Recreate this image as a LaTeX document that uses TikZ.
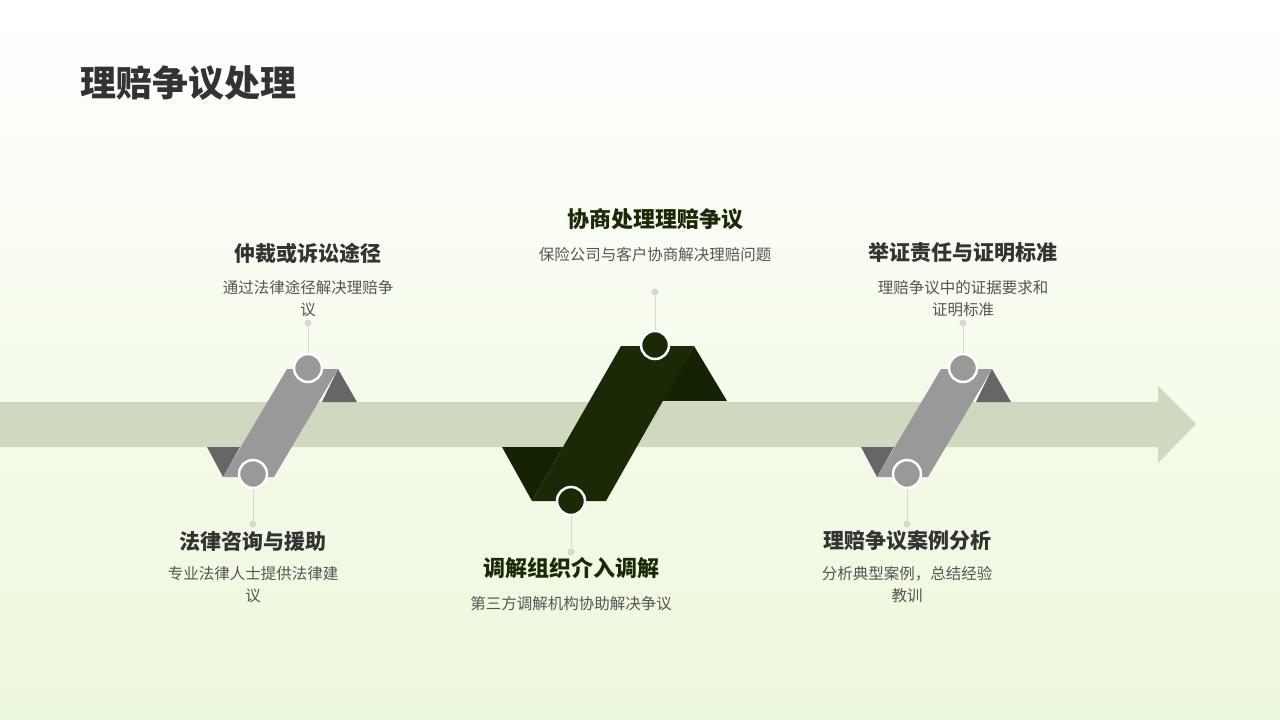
\documentclass[tikz,border=0pt]{standalone}
\usepackage{fontspec}
\setmainfont{Noto Sans CJK SC}
\usetikzlibrary{positioning}
\definecolor{bandgreen}{HTML}{CFD9C0}
\definecolor{midgrey}{HTML}{999999}
\definecolor{darkgrey}{HTML}{666666}
\definecolor{leafdark}{HTML}{1B2A06}
\definecolor{leafdeep}{HTML}{152204}
\definecolor{bgtop}{HTML}{FFFFFF}
\definecolor{bgbottom}{HTML}{ECF8DA}
\definecolor{textdark}{HTML}{333333}
\definecolor{textsoft}{HTML}{555555}
\definecolor{pinline}{HTML}{D6D6D6}
\tikzset{
  knob/.style={circle,draw=white,line width=2.5pt,minimum size=28pt,inner sep=0pt},
  pindot/.style={circle,fill=pinline,minimum size=7pt,inner sep=0pt},
  headtext/.style={font=\bfseries\fontsize{21}{24}\selectfont,text=textdark},
  desctext/.style={font=\fontsize{15.5}{22}\selectfont,text=textsoft,align=center},
}
\begin{document}
\begin{tikzpicture}[x=1pt,y=-1pt]
  % background
  \shade[top color=bgtop,bottom color=bgbottom] (0,0) rectangle (1280,720);
  \useasboundingbox (0,0) rectangle (1280,720);
  \node[anchor=west,font=\bfseries\fontsize{36}{40}\selectfont,text=textdark,inner sep=0pt] (title) at (80,83) {理赔争议处理};

  % timeline band
  \fill[bandgreen] (0,402) -- (1158,402) -- (1158,386) -- (1196,424) -- (1158,463) -- (1158,447) -- (0,447) -- cycle;

  % grey folds
  \foreach \dx in {0,654} {
    \fill[darkgrey] (322+\dx,402) -- (338+\dx,369) -- (357+\dx,402) -- cycle;
    \fill[darkgrey] (207+\dx,447) -- (240+\dx,447) -- (223+\dx,477) -- cycle;
    \fill[midgrey] (287+\dx,369) -- (338+\dx,369) -- (274+\dx,477) -- (223+\dx,477) -- cycle;
  }

  % dark fold
  \fill[leafdeep] (662,401) -- (694,346) -- (727,401) -- cycle;
  \fill[leafdeep] (502,447) -- (563,447) -- (532,501) -- cycle;
  \fill[leafdark] (621,346) -- (694,346) -- (606,501) -- (532,501) -- cycle;

  % pins and knobs
  \node[pindot] (p1) at (308,323) {};
  \node[knob,fill=midgrey] (k1) at (308,368) {};
  \node[pindot] (p2) at (253,524) {};
  \node[knob,fill=midgrey] (k2) at (253,474) {};
  \node[pindot] (p3) at (655,292) {};
  \node[knob,fill=leafdark] (k3) at (655,345) {};
  \node[pindot] (p4) at (571,552) {};
  \node[knob,fill=leafdark] (k4) at (571,501) {};
  \node[pindot] (p5) at (963,323) {};
  \node[knob,fill=midgrey] (k5) at (963,368) {};
  \node[pindot] (p6) at (907,524) {};
  \node[knob,fill=midgrey] (k6) at (907,474) {};
  \foreach \a/\b in {p1/k1,p2/k2,p3/k3,p4/k4,p5/k5,p6/k6}
    \draw[pinline,line width=1pt] (\a) -- (\b);

  % labels
  \node[headtext] (h1) at (308,253) {仲裁或诉讼途径};
  \node[desctext] (d1) at (308,299) {通过法律途径解决理赔争\\议};
  \node[headtext] (h2) at (253,541) {法律咨询与援助};
  \node[desctext] (d2) at (253,585) {专业法律人士提供法律建\\议};
  \node[headtext,font=\bfseries\fontsize{22}{24}\selectfont,text=leafdark] (h3) at (655,219) {协商处理理赔争议};
  \node[desctext] (d3) at (655,255) {保险公司与客户协商解决理赔问题};
  \node[headtext,font=\bfseries\fontsize{22}{24}\selectfont,text=leafdark] (h4) at (571,568) {调解组织介入调解};
  \node[desctext] (d4) at (571,604) {第三方调解机构协助解决争议};
  \node[headtext] (h5) at (963,253) {举证责任与证明标准};
  \node[desctext] (d5) at (963,299) {理赔争议中的证据要求和\\证明标准};
  \node[headtext] (h6) at (907,541) {理赔争议案例分析};
  \node[desctext] (d6) at (907,585) {分析典型案例，总结经验\\教训};
\end{tikzpicture}
\end{document}
